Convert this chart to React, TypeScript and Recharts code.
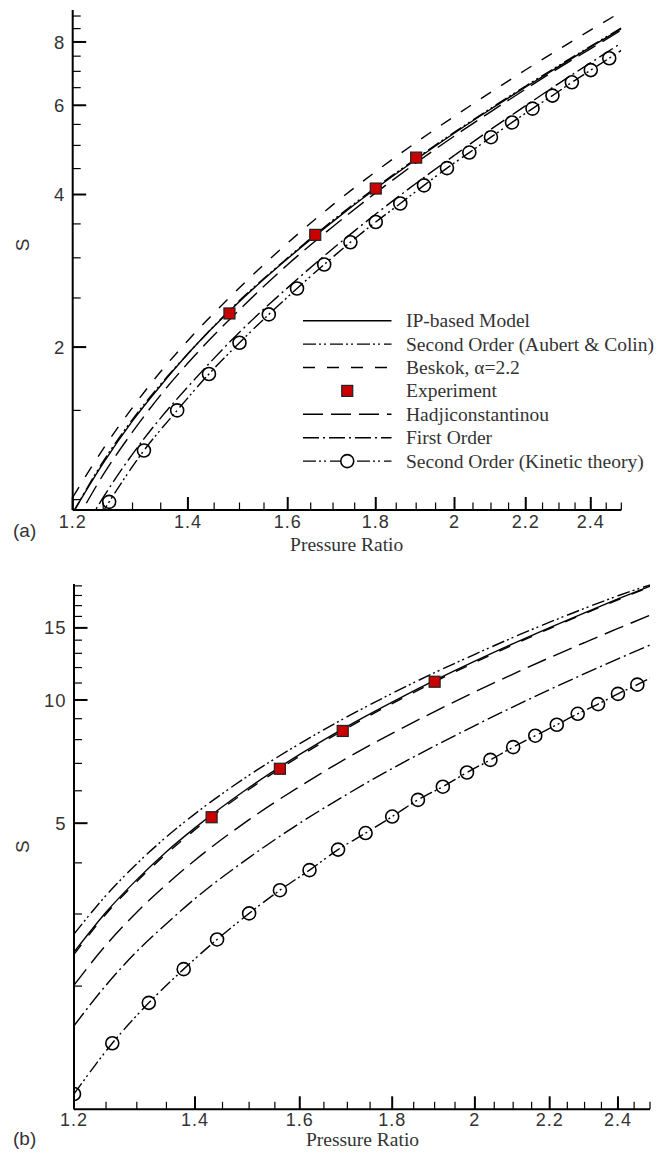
import React from 'react';
import { ComposedChart, Line, Scatter, XAxis, YAxis } from 'recharts';

// Pressure ratios at which the model curves are tabulated
const pressureGrid = [1.2, 1.25, 1.3, 1.35, 1.4, 1.5, 1.6, 1.7, 1.8, 1.9, 2.0, 2.1, 2.2, 2.3, 2.4, 2.5];

// ---- Panel (a) ----
const ipModelA = [0.94, 1.18, 1.43, 1.68, 1.94, 2.46, 2.99, 3.54, 4.11, 4.69, 5.29, 5.9, 6.52, 7.16, 7.82, 8.49];
const aubertColinA = [0.94, 1.19, 1.44, 1.69, 1.94, 2.47, 3.0, 3.56, 4.13, 4.71, 5.31, 5.92, 6.55, 7.19, 7.85, 8.52];
const beskokA = [1.01, 1.26, 1.52, 1.79, 2.06, 2.62, 3.21, 3.82, 4.44, 5.07, 5.71, 6.37, 7.05, 7.74, 8.45, 9.17];
const hadjiA = [0.88, 1.12, 1.36, 1.61, 1.86, 2.37, 2.91, 3.46, 4.03, 4.62, 5.22, 5.83, 6.46, 7.11, 7.76, 8.44];
const firstOrderA = [0.8, 1.01, 1.23, 1.45, 1.67, 2.14, 2.62, 3.13, 3.66, 4.21, 4.78, 5.38, 5.99, 6.63, 7.28, 7.96];

const kineticMarkXA = [1.26, 1.32, 1.38, 1.44, 1.5, 1.56, 1.62, 1.68, 1.74, 1.8, 1.86, 1.92, 1.98, 2.04, 2.1, 2.16, 2.22, 2.28, 2.34, 2.4, 2.46];
const kineticMarkA = [0.99, 1.25, 1.5, 1.77, 2.04, 2.32, 2.61, 2.91, 3.22, 3.53, 3.84, 4.17, 4.51, 4.84, 5.19, 5.55, 5.91, 6.27, 6.66, 7.04, 7.43];
const kineticEndXA = [1.2, 2.5];
const kineticEndA = [0.75, 7.7];

const experimentXA = [1.48, 1.66, 1.8, 1.9];
const experimentA = [2.33, 3.33, 4.11, 4.73];

// ---- Panel (b) ----
const ipModelB = [2.42, 3.03, 3.64, 4.26, 4.87, 6.11, 7.36, 8.62, 9.88, 11.16, 12.44, 13.73, 15.03, 16.33, 17.65, 18.97];
const aubertColinB = [2.68, 3.33, 3.98, 4.63, 5.27, 6.55, 7.82, 9.1, 10.38, 11.66, 12.93, 14.22, 15.49, 16.74, 17.97, 19.1];
const beskokB = [2.39, 3.0, 3.6, 4.21, 4.82, 6.05, 7.29, 8.54, 9.8, 11.07, 12.35, 13.64, 14.94, 16.25, 17.57, 18.9];
const hadjiB = [2.01, 2.52, 3.03, 3.54, 4.06, 5.1, 6.15, 7.22, 8.29, 9.37, 10.47, 11.57, 12.69, 13.81, 14.95, 16.1];
const firstOrderB = [1.6, 2.01, 2.43, 2.84, 3.27, 4.12, 5.0, 5.89, 6.8, 7.72, 8.66, 9.62, 10.6, 11.59, 12.6, 13.62];

const kineticMarkXB = [1.2, 1.26, 1.32, 1.38, 1.44, 1.5, 1.56, 1.62, 1.68, 1.74, 1.8, 1.86, 1.92, 1.98, 2.04, 2.1, 2.16, 2.22, 2.28, 2.34, 2.4, 2.46];
const kineticMarkB = [1.09, 1.45, 1.82, 2.2, 2.6, 3.01, 3.43, 3.84, 4.31, 4.73, 5.19, 5.7, 6.14, 6.65, 7.14, 7.67, 8.18, 8.7, 9.25, 9.77, 10.35, 10.9];
const kineticEndXB = [2.5];
const kineticEndB = [11.3];

const experimentXB = [1.43, 1.56, 1.69, 1.9];
const experimentB = [5.17, 6.79, 8.4, 11.08];

// ---- Axis ticks ----
const xTicks = [1.2, 1.25, 1.3, 1.35, 1.4, 1.45, 1.5, 1.55, 1.6, 1.65, 1.7, 1.75, 1.8, 1.85, 1.9, 1.95, 2, 2.05, 2.1, 2.15, 2.2, 2.25, 2.3, 2.35, 2.4, 2.45, 2.5];
const xMajors = [1.2, 1.4, 1.6, 1.8, 2, 2.2, 2.4];
const yTicksA = [1, 1.5, 2, 2.5, 3, 3.5, 4, 4.5, 5, 5.5, 6, 6.5, 7, 7.5, 8, 8.5, 9];
const yMajorsA = [2, 4, 6, 8];
const yTicksB = [2, 3, 4, 5, 6, 7, 8, 9, 10, 11, 12, 13, 14, 15, 16, 17, 18, 19];
const yMajorsB = [5, 10, 15];

// ---- Line styles ----
const DASH = {
  aubert: '13 3 2 3 2 4',
  beskok: '12 12',
  hadji: '20 8',
  first: '16 4 2 4',
  kinetic: '13 3 2 3 2 4',
};

const legendLabels = [
  'IP-based Model',
  'Second Order (Aubert & Colin)',
  'Beskok, \u03b1=2.2',
  'Experiment',
  'Hadjiconstantinou',
  'First Order',
  'Second Order (Kinetic theory)',
];
const legendDash: (string | undefined)[] = [undefined, DASH.aubert, DASH.beskok, undefined, DASH.hadji, DASH.first, DASH.kinetic];

const SANS = '"Liberation Sans", Arial, Helvetica, sans-serif';
const SERIF = '"Liberation Serif", "Times New Roman", serif';
const INK = '#333';
const RED = '#c80000';

type Pt = { x: number; y: number };
const zip = (xs: number[], ys: number[]): Pt[] => xs.map((x, i) => ({ x, y: ys[i] }));
const isMajor = (v: number, majors: number[]) => majors.some((m) => Math.abs(m - v) < 1e-9);
const fmt = (v: number) => String(Number(v.toFixed(2)));

const makeXTick = (labelDy: number) => (p: any) => {
  const { x, y, payload } = p;
  const v = payload.value as number;
  const major = isMajor(v, xMajors);
  return (
    <g>
      <line x1={x} x2={x} y1={y} y2={y - (major ? 13 : 7.5)} stroke="#000" strokeWidth={major ? 2 : 1.2} />
      {major && (
        <text x={x} y={y + labelDy} textAnchor="middle" fontFamily={SANS} fontSize={18} letterSpacing={1} fill={INK}>
          {fmt(v)}
        </text>
      )}
    </g>
  );
};

const makeYTick = (majors: number[]) => (p: any) => {
  const { x, y, payload } = p;
  const v = payload.value as number;
  const major = isMajor(v, majors);
  return (
    <g>
      <line x1={x} x2={x + (major ? 13.5 : 8)} y1={y} y2={y} stroke="#000" strokeWidth={major ? 2 : 1.2} />
      {major && (
        <text x={x - 7.5} y={y + 6.6} textAnchor="end" fontFamily={SANS} fontSize={18.5} letterSpacing={1} fill={INK}>
          {fmt(v)}
        </text>
      )}
    </g>
  );
};

const Ring = (p: any) => <circle cx={p.cx} cy={p.cy} r={6.5} fill="none" stroke="#000" strokeWidth={1.6} />;
const RedSquare = (p: any) => (
  <rect x={p.cx - 5.5} y={p.cy - 5.5} width={11} height={11} fill={RED} stroke="#222" strokeWidth={1.2} />
);

type PanelProps = {
  top: number;
  height: number;
  yWidth: number;
  right: number;
  xAxisHeight: number;
  xLabelDy: number;
  yDomain: [number, number];
  yTicks: number[];
  yMajors: number[];
  first: number[];
  hadji: number[];
  beskok: number[];
  aubert: number[];
  ip: number[];
  kineticLine: Pt[];
  kineticMarks: Pt[];
  experiment: Pt[];
};

function Panel(p: PanelProps) {
  const lineProps = { dataKey: 'y', type: 'monotone' as const, stroke: '#000', strokeWidth: 1.4, dot: false, activeDot: false, isAnimationActive: false };
  return (
    <div style={{ position: 'absolute', left: 0, top: p.top }}>
      <ComposedChart width={665} height={p.height} margin={{ top: 10, right: p.right, bottom: 0, left: 0 }}>
        <XAxis
          dataKey="x"
          type="number"
          scale="log"
          domain={[1.2, 2.5]}
          allowDataOverflow
          ticks={xTicks}
          interval={0}
          tickSize={0}
          tickMargin={0}
          height={p.xAxisHeight}
          axisLine={{ stroke: '#000', strokeWidth: 2 }}
          tickLine={false}
          tick={makeXTick(p.xLabelDy)}
        />
        <YAxis
          dataKey="y"
          type="number"
          scale="log"
          domain={p.yDomain}
          allowDataOverflow
          ticks={p.yTicks}
          interval={0}
          tickSize={0}
          tickMargin={0}
          width={p.yWidth}
          axisLine={{ stroke: '#000', strokeWidth: 2 }}
          tickLine={false}
          tick={makeYTick(p.yMajors)}
        />
        <Line {...lineProps} data={zip(pressureGrid, p.first)} strokeDasharray={DASH.first} />
        <Line {...lineProps} data={zip(pressureGrid, p.hadji)} strokeDasharray={DASH.hadji} />
        <Line {...lineProps} data={zip(pressureGrid, p.beskok)} strokeDasharray={DASH.beskok} />
        <Line {...lineProps} data={zip(pressureGrid, p.aubert)} strokeDasharray={DASH.aubert} />
        <Line {...lineProps} data={zip(pressureGrid, p.ip)} />
        <Line {...lineProps} data={p.kineticLine} strokeDasharray={DASH.kinetic} />
        <Scatter data={p.kineticMarks} dataKey="y" shape={Ring} isAnimationActive={false} />
        <Scatter data={p.experiment} dataKey="y" shape={RedSquare} isAnimationActive={false} />
      </ComposedChart>
    </div>
  );
}

function LegendA() {
  const x0 = 303;
  const x1 = 391.5;
  const tx = 406;
  const y0 = 320.7;
  const step = 23.4;
  return (
    <svg width={665} height={560} style={{ position: 'absolute', left: 0, top: 0, pointerEvents: 'none' }}>
      {legendLabels.map((label, i) => {
        const y = y0 + i * step;
        const mid = (x0 + x1) / 2;
        return (
          <g key={label}>
            {i !== 3 && <line x1={x0} x2={x1} y1={y} y2={y} stroke="#000" strokeWidth={1.4} strokeDasharray={legendDash[i]} />}
            {i === 3 && <rect x={mid - 5.5} y={y - 5.5} width={11} height={11} fill={RED} stroke="#222" strokeWidth={1.2} />}
            {i === 6 && <circle cx={mid} cy={y} r={6.5} fill="#fff" stroke="#000" strokeWidth={1.6} />}
            <text x={tx} y={y + 6.5} fontFamily={SERIF} fontSize={19.5} fill={INK}>
              {label}
            </text>
          </g>
        );
      })}
    </svg>
  );
}

function Annotations() {
  return (
    <svg width={665} height={1152} style={{ position: 'absolute', left: 0, top: 0, pointerEvents: 'none' }}>
      <text x={13} y={536.5} fontFamily={SANS} fontSize={19} fill={INK}>(a)</text>
      <text x={13} y={1145} fontFamily={SANS} fontSize={19} fill={INK}>(b)</text>
      <text x={346.7} y={551} textAnchor="middle" fontFamily={SERIF} fontSize={19.5} fill={INK}>Pressure Ratio</text>
      <text x={362.5} y={1146} textAnchor="middle" fontFamily={SERIF} fontSize={19.5} fill={INK}>Pressure Ratio</text>
      <text x={0} y={0} transform="translate(29,245) rotate(-90)" textAnchor="middle" fontFamily={SANS} fontSize={19} fill={INK}>S</text>
      <text x={0} y={0} transform="translate(28.5,846.7) rotate(-90)" textAnchor="middle" fontFamily={SANS} fontSize={19} fill={INK}>S</text>
    </svg>
  );
}

export default function App() {
  const kineticLineA = zip([kineticEndXA[0], ...kineticMarkXA, kineticEndXA[1]], [kineticEndA[0], ...kineticMarkA, kineticEndA[1]]);
  const kineticLineB = zip([...kineticMarkXB, ...kineticEndXB], [...kineticMarkB, ...kineticEndB]);
  return (
    <div style={{ position: 'absolute', left: 0, top: 0, width: 665, height: 1152, background: '#fff', overflow: 'hidden' }}>
      <Panel
        top={0}
        height={560}
        yWidth={72.7}
        right={43.7}
        xAxisHeight={50}
        xLabelDy={18}
        yDomain={[0.954, 9.25]}
        yTicks={yTicksA}
        yMajors={yMajorsA}
        first={firstOrderA}
        hadji={hadjiA}
        beskok={beskokA}
        aubert={aubertColinA}
        ip={ipModelA}
        kineticLine={kineticLineA}
        kineticMarks={zip(kineticMarkXA, kineticMarkA)}
        experiment={zip(experimentXA, experimentA)}
      />
      <LegendA />
      <Panel
        top={574}
        height={578}
        yWidth={74}
        right={15}
        xAxisHeight={42.7}
        xLabelDy={17}
        yDomain={[1.0, 19.2]}
        yTicks={yTicksB}
        yMajors={yMajorsB}
        first={firstOrderB}
        hadji={hadjiB}
        beskok={beskokB}
        aubert={aubertColinB}
        ip={ipModelB}
        kineticLine={kineticLineB}
        kineticMarks={zip(kineticMarkXB, kineticMarkB)}
        experiment={zip(experimentXB, experimentB)}
      />
      <Annotations />
    </div>
  );
}
